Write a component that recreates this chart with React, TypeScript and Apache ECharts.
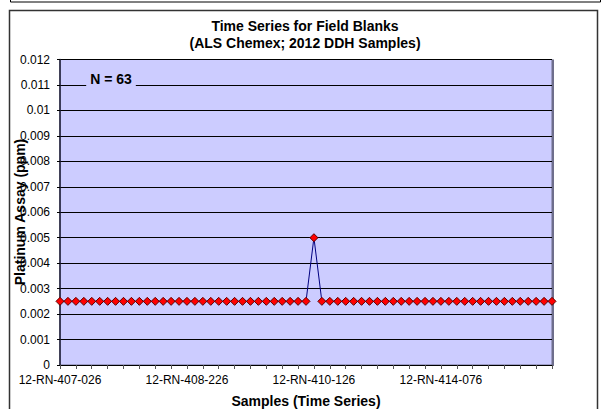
import React, { useEffect, useRef } from "react";
import * as echarts from "echarts";

const titleLines = ["Time Series for Field Blanks", "(ALS Chemex; 2012 DDH Samples)"];
const yAxisTitle = "Platinum Assay (ppm)";
const xAxisTitle = "Samples (Time Series)";
const annotation = "N = 63";

// x tick labels shown on the category axis, with the sample index they sit on
const tickLabels = ["12-RN-407-026", "12-RN-408-226", "12-RN-410-126", "12-RN-414-076"];
const tickLabelIndex = [0, 16, 32, 48];

// Pt assay values (ppm), 63 field blanks in time order
const ptValues = [
  0.0025, 0.0025, 0.0025, 0.0025, 0.0025, 0.0025, 0.0025, 0.0025, 0.0025, 0.0025,
  0.0025, 0.0025, 0.0025, 0.0025, 0.0025, 0.0025, 0.0025, 0.0025, 0.0025, 0.0025,
  0.0025, 0.0025, 0.0025, 0.0025, 0.0025, 0.0025, 0.0025, 0.0025, 0.0025, 0.0025,
  0.0025, 0.0025, 0.005, 0.0025, 0.0025, 0.0025, 0.0025, 0.0025, 0.0025, 0.0025,
  0.0025, 0.0025, 0.0025, 0.0025, 0.0025, 0.0025, 0.0025, 0.0025, 0.0025, 0.0025,
  0.0025, 0.0025, 0.0025, 0.0025, 0.0025, 0.0025, 0.0025, 0.0025, 0.0025, 0.0025,
  0.0025, 0.0025, 0.0025,
];

const categories = ptValues.map((_, i) => {
  const k = tickLabelIndex.indexOf(i);
  return k >= 0 ? tickLabels[k] : `Sample ${i + 1}`;
});

const FONT = "Liberation Sans, Arial, sans-serif";

export default function App() {
  const ref = useRef<HTMLDivElement>(null);
  useEffect(() => {
    if (!ref.current) return;
    const chart = echarts.init(ref.current, null, { renderer: "svg" });
    chart.setOption({
      animation: false,
      backgroundColor: "#ffffff",
      textStyle: { fontFamily: FONT },
      grid: {
        left: 60,
        top: 59.5,
        width: 492,
        height: 305.5,
        show: true,
        backgroundColor: "#CCCCFF",
        borderColor: "#6E6E8C",
        borderWidth: 1,
        containLabel: false,
      },
      xAxis: {
        type: "category",
        data: categories,
        boundaryGap: false,
        axisLine: { lineStyle: { color: "#000000", width: 1 } },
        axisTick: {
          show: true,
          interval: 1,
          length: 4,
          lineStyle: { color: "#555555" },
        },
        axisLabel: {
          interval: (idx: number) => tickLabelIndex.indexOf(idx) >= 0,
          color: "#000000",
          fontSize: 12,
          fontFamily: FONT,
          margin: 9,
        },
        splitLine: { show: false },
      },
      yAxis: {
        type: "value",
        min: 0,
        max: 0.012,
        interval: 0.001,
        axisLine: { show: true, lineStyle: { color: "#1a1a33", width: 1.5 } },
        axisTick: { show: true, length: 3, lineStyle: { color: "#000000" } },
        axisLabel: {
          color: "#000000",
          fontSize: 12,
          fontFamily: FONT,
          margin: 10,
          formatter: (v: number) => String(parseFloat(v.toFixed(3))),
        },
        splitLine: { show: true, lineStyle: { color: "#000000", width: 1 } },
      },
      series: [
        {
          type: "line",
          data: ptValues,
          symbol: "diamond",
          symbolSize: 8,
          showAllSymbol: true,
          lineStyle: { color: "#000080", width: 1 },
          itemStyle: { color: "#FF0000", borderColor: "#5a0000", borderWidth: 1 },
          z: 5,
        },
      ],
      graphic: [
        {
          type: "rect",
          shape: { x: 10.5, y: -10, width: 590, height: 12 },
          style: { fill: "none", stroke: "#000000", lineWidth: 1 },
          silent: true,
        },
        {
          type: "rect",
          shape: { x: 9.5, y: 10.5, width: 588, height: 420 },
          style: { fill: "none", stroke: "#333333", lineWidth: 1.5 },
          silent: true,
        },
        {
          type: "line",
          shape: { x1: 553, y1: 59.5, x2: 553, y2: 366 },
          style: { stroke: "#6E6E8C", lineWidth: 2 },
          silent: true,
        },
        {
          type: "text",
          x: 305,
          y: 26,
          style: {
            text: titleLines[0],
            fontSize: 14,
            fontWeight: "bold",
            fontFamily: FONT,
            fill: "#000000",
            textAlign: "center",
            textVerticalAlign: "middle",
          },
        },
        {
          type: "text",
          x: 305,
          y: 43,
          style: {
            text: titleLines[1],
            fontSize: 14,
            fontWeight: "bold",
            fontFamily: FONT,
            fill: "#000000",
            textAlign: "center",
            textVerticalAlign: "middle",
          },
        },
        {
          type: "text",
          x: 20,
          y: 212,
          rotation: Math.PI / 2,
          style: {
            text: yAxisTitle,
            fontSize: 14,
            fontWeight: "bold",
            fontFamily: FONT,
            fill: "#000000",
            textAlign: "center",
            textVerticalAlign: "middle",
          },
          z: 10,
        },
        {
          type: "text",
          x: 306,
          y: 401,
          style: {
            text: xAxisTitle,
            fontSize: 14,
            fontWeight: "bold",
            fontFamily: FONT,
            fill: "#000000",
            textAlign: "center",
            textVerticalAlign: "middle",
          },
        },
        {
          type: "text",
          x: 111,
          y: 79,
          style: {
            text: annotation,
            fontSize: 14,
            fontWeight: "bold",
            fontFamily: FONT,
            fill: "#000000",
            textAlign: "center",
            textVerticalAlign: "middle",
            backgroundColor: "#CCCCFF",
            padding: [2, 4, 2, 4],
          },
          z: 10,
        },
      ],
    });
    return () => chart.dispose();
  }, []);
  return (
    <div
      ref={ref}
      style={{ position: "absolute", left: 0, top: 0, width: 603, height: 409 }}
    />
  );
}
